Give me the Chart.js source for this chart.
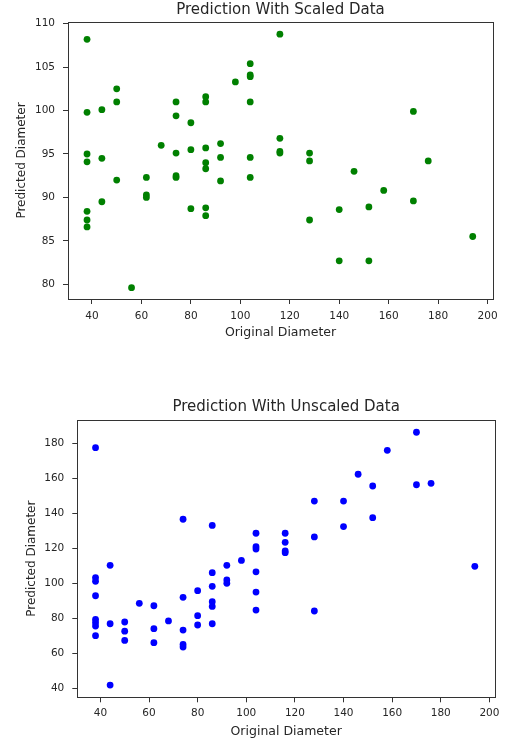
<!DOCTYPE html>
<html>
<head>
<meta charset="utf-8">
<script src="https://cdn.jsdelivr.net/npm/chart.js@4.4.0/dist/chart.umd.min.js"></script>
<style>
  body { margin: 0; background: #fff; width: 508px; height: 743px; overflow: hidden; }
  canvas { position: absolute; left: 0; }
  #scaledChart { top: 0; }
  #unscaledChart { top: 360px; }
</style>
</head>
<body>
<canvas id="scaledChart" width="508" height="350"></canvas>
<canvas id="unscaledChart" width="508" height="383"></canvas>
<script>
// values
const scaledX = [
  38, 38, 38, 38, 38, 38, 38,
  44, 44, 44,
  50, 50, 50,
  56,
  62, 62, 62,
  68,
  74, 74, 74, 74, 74,
  80, 80, 80,
  86, 86, 86, 86, 86, 86, 86,
  92, 92, 92,
  98,
  104, 104, 104, 104, 104, 104,
  116, 116, 116, 116,
  128, 128, 128,
  140, 140,
  146,
  152, 152,
  158,
  170, 170,
  176,
  194
];
const scaledY = [
  108.2, 99.8, 95.0, 94.1, 88.4, 87.4, 86.6,
  100.1, 94.5, 89.5,
  102.5, 101.0, 92.0,
  79.6,
  92.3, 90.3, 90.0,
  96.0,
  101.0, 99.4, 95.1, 92.5, 92.3,
  98.6, 95.5, 88.7,
  101.6, 101.0, 95.7, 94.0, 93.3, 88.8, 87.9,
  96.2, 94.6, 91.9,
  103.3,
  105.4, 104.1, 103.9, 101.0, 94.6, 92.3,
  108.8, 96.8, 95.3, 95.1,
  95.1, 94.2, 87.4,
  88.6, 82.7,
  93.0,
  88.9, 82.7,
  90.8,
  99.9, 89.6,
  94.2,
  85.5
];

const unscaledX = [
  38, 38, 38, 38, 38, 38, 38, 38,
  44, 44, 44,
  50, 50, 50,
  56,
  62, 62, 62,
  68,
  74, 74, 74, 74, 74,
  80, 80, 80,
  86, 86, 86, 86, 86, 86,
  92, 92, 92,
  98,
  104, 104, 104, 104, 104, 104,
  116, 116, 116, 116,
  128, 128, 128,
  140, 140,
  146,
  152, 152,
  158,
  170, 170,
  176,
  194
];
const unscaledY = [
  177.5, 103.3, 101.2, 92.9, 79.4, 77.5, 75.6, 70.1,
  110.3, 76.9, 41.9,
  77.9, 72.7, 67.4,
  88.6,
  87.2, 74.1, 66.1,
  78.5,
  136.6, 92.0, 73.3, 65.1, 63.6,
  95.8, 81.5, 76.2,
  133.1, 106.1, 98.3, 89.5, 86.8, 76.9,
  110.3, 101.9, 100.0,
  113.1,
  128.6, 120.9, 119.6, 106.6, 95.0, 84.7,
  128.6, 123.4, 118.5, 117.5,
  147.0, 126.5, 84.2,
  147.0, 132.4,
  162.3,
  155.6, 137.5,
  176.0,
  186.3, 156.3,
  157.1,
  109.7
];

const xTicks = [40, 60, 80, 100, 120, 140, 160, 180, 200];
const scaledYTicks = [80, 85, 90, 95, 100, 105, 110];
const unscaledYTicks = [40, 60, 80, 100, 120, 140, 160, 180];

const fontFamily = "'DejaVu Sans', sans-serif";
const inkColor = "#262626";
const lineColor = "#333";

// box around the plot + title centred over the plot area
const framePlugin = {
  id: "plotFrame",
  afterDraw(chart, args, opts) {
    const a = chart.chartArea;
    const ctx = chart.ctx;
    ctx.save();
    ctx.strokeStyle = lineColor;
    ctx.lineWidth = 1;
    ctx.strokeRect(Math.round(a.left) + 0.5, Math.round(a.top) + 0.5,
      Math.round(a.right - a.left), Math.round(a.bottom - a.top));
    ctx.fillStyle = inkColor;
    ctx.font = "15px " + fontFamily;
    ctx.textAlign = "center";
    ctx.textBaseline = "middle";
    ctx.fillText(opts.text, (a.left + a.right) / 2, opts.y);
    ctx.restore();
  }
};

function axisTicks(values) {
  return scale => { scale.ticks = values.map(v => ({ value: v })); };
}

function makeChart(id, xs, ys, color, cfg) {
  const points = xs.map((x, i) => ({ x: x, y: ys[i] }));
  return new Chart(document.getElementById(id), {
    type: "scatter",
    data: {
      datasets: [{
        data: points,
        backgroundColor: color,
        borderWidth: 0,
        pointRadius: 3.4,
        pointHoverRadius: 3.4
      }]
    },
    options: {
      responsive: false,
      animation: false,
      events: [],
      layout: { padding: { top: cfg.top, right: cfg.right, left: 0, bottom: 0 } },
      plugins: {
        legend: { display: false },
        tooltip: { enabled: false },
        plotFrame: { text: cfg.title, y: cfg.titleY }
      },
      scales: {
        x: {
          type: "linear",
          min: cfg.xMin,
          max: cfg.xMax,
          afterBuildTicks: axisTicks(xTicks),
          afterFit: s => { s.height = cfg.xHeight; },
          border: { display: false },
          grid: { drawOnChartArea: false, drawTicks: true, tickLength: 5, color: lineColor },
          ticks: { color: inkColor, padding: cfg.xTickPad, maxRotation: 0, autoSkip: false,
                   font: { family: fontFamily, size: 10.5 } },
          title: { display: true, text: "Original Diameter", color: inkColor,
                   font: { family: fontFamily, size: 12.5 }, padding: { top: 0, bottom: cfg.xTitlePad } }
        },
        y: {
          type: "linear",
          min: cfg.yMin,
          max: cfg.yMax,
          afterBuildTicks: axisTicks(cfg.yTicks),
          afterFit: s => { s.width = cfg.yWidth; },
          border: { display: false },
          grid: { drawOnChartArea: false, drawTicks: true, tickLength: 5, color: lineColor },
          ticks: { color: inkColor, padding: 8, autoSkip: false,
                   font: { family: fontFamily, size: 10.5 } },
          title: { display: true, text: "Predicted Diameter", color: inkColor,
                   font: { family: fontFamily, size: 12 }, padding: { top: cfg.yTitlePad, bottom: 0 } }
        }
      }
    },
    plugins: [framePlugin]
  });
}

makeChart("scaledChart", scaledX, scaledY, "#008000", {
  title: "Prediction With Scaled Data", titleY: 10,
  top: 22, right: 15, xHeight: 51, yWidth: 68,
  xTickPad: 6, xTitlePad: 9.5, yTitlePad: 14.8,
  xMin: 30.3, xMax: 202.2, yMin: 78.3, yMax: 110.2, yTicks: scaledYTicks
});

makeChart("unscaledChart", unscaledX, unscaledY, "#0000ff", {
  title: "Prediction With Unscaled Data", titleY: 47,
  top: 60, right: 13, xHeight: 45.7, yWidth: 77.3,
  xTickPad: 5, xTitlePad: 3.6, yTitlePad: 24.3,
  xMin: 30.5, xMax: 202.3, yMin: 34.9, yMax: 193.3, yTicks: unscaledYTicks
});
</script>
</body>
</html>
